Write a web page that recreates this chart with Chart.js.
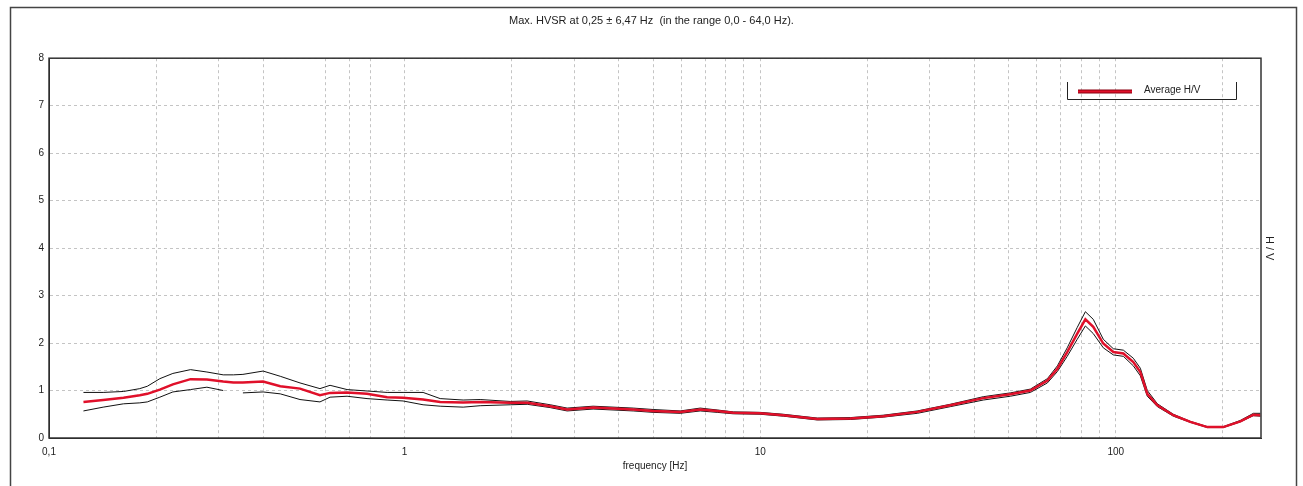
<!DOCTYPE html>
<html>
<head>
<meta charset="utf-8">
<script src="https://cdn.jsdelivr.net/npm/chart.js@4"></script>
<style>
  body { margin: 0; background: #fff; }
  #wrap { width: 1303px; height: 486px; position: relative; }
</style>
</head>
<body>
<div id="wrap"><canvas id="hvchart"></canvas></div>
<script>
// frequency [Hz] and H/V curves
var freqs = [0.125,0.142,0.162,0.180,0.189,0.205,0.223,0.250,0.278,0.309,0.330,0.351,0.400,0.447,0.508,0.578,0.617,0.689,0.784,0.893,
  0.990,1.127,1.259,1.461,1.631,1.981,2.212,2.567,2.865,3.390,4.394,5.000,5.957,6.780,7.570,8.400,10.00,11.61,14.47,17.92,
  22.18,27.65,34.23,42.40,50.50,57.50,64.20,68.50,73.00,77.90,82.10,86.40,92.20,98.40,105.0,112.0,117.2,122.6,130.9,145.1,
  162.0,180.9,200.6,224.0,243.7,255.0];
var avgHV = [0.76,0.80,0.85,0.90,0.93,1.02,1.13,1.24,1.23,1.19,1.17,1.17,1.19,1.09,1.04,0.90,0.95,0.96,0.93,0.86,
  0.85,0.81,0.76,0.75,0.76,0.74,0.74,0.67,0.60,0.64,0.60,0.57,0.55,0.60,0.57,0.53,0.52,0.48,0.40,0.41,
  0.46,0.55,0.69,0.84,0.92,1.00,1.21,1.46,1.81,2.20,2.50,2.34,1.99,1.81,1.78,1.60,1.39,0.93,0.69,0.48,
  0.34,0.23,0.23,0.35,0.49,0.48];
var upperHV = [0.96,0.96,0.98,1.04,1.09,1.25,1.36,1.44,1.39,1.33,1.33,1.34,1.41,1.30,1.16,1.04,1.11,1.02,0.99,0.96,
  0.96,0.96,0.83,0.80,0.81,0.77,0.78,0.70,0.63,0.67,0.63,0.60,0.57,0.63,0.59,0.55,0.54,0.50,0.42,0.43,
  0.48,0.57,0.71,0.87,0.95,1.03,1.25,1.52,1.90,2.33,2.66,2.50,2.08,1.88,1.85,1.68,1.47,1.00,0.72,0.50,
  0.35,0.24,0.24,0.37,0.52,0.52];
var lowerHV = [0.57,0.65,0.72,0.74,0.76,0.86,0.97,1.02,1.07,1.00,null,0.95,0.97,0.93,0.81,0.76,0.86,0.88,0.83,0.80,
  0.78,0.70,0.67,0.65,0.68,0.70,0.71,0.64,0.57,0.61,0.57,0.54,0.52,0.57,0.54,0.51,0.50,0.46,0.38,0.39,
  0.44,0.52,0.66,0.80,0.88,0.96,1.16,1.40,1.72,2.08,2.36,2.20,1.90,1.75,1.72,1.52,1.31,0.88,0.66,0.46,
  0.33,0.22,0.22,0.34,0.47,0.46];

// grid lines on the log axis (0,5 and 0,9 have no line in the original)
var gridFreqs = [0.1,0.2,0.3,0.4,0.6,0.7,0.8,1,2,3,4,5,6,7,8,9,10,20,30,40,50,60,70,80,90,100,200];
var xTickValues = [0.1, 1, 10, 100];
var xTickLabels = ['0,1', '1', '10', '100'];

function pts(ys) {
  return freqs.map(function (f, i) { return { x: f, y: ys[i] }; });
}

// frame around the whole picture, plot box and the little legend
var framePlugin = {
  id: 'frame',
  afterDraw: function (chart) {
    var c = chart.ctx, a = chart.chartArea;
    c.save();
    c.strokeStyle = '#444';
    c.lineWidth = 1.5;
    c.strokeRect(10.5, 7.5, 1286, 482);
    c.strokeStyle = '#333';
    c.strokeRect(a.left, a.top, a.right - a.left, a.bottom - a.top);

    // legend
    var lx = 1067.5, rx = 1236.5, ty = 82, by = 99.5;
    c.lineWidth = 1;
    c.strokeStyle = '#222';
    c.beginPath();
    c.moveTo(lx, ty); c.lineTo(lx, by); c.lineTo(rx, by); c.lineTo(rx, ty);
    c.stroke();
    c.strokeStyle = '#8a0010';
    c.lineWidth = 4;
    c.beginPath(); c.moveTo(1078, 91.5); c.lineTo(1132, 91.5); c.stroke();
    c.strokeStyle = '#e0102a';
    c.lineWidth = 2;
    c.beginPath(); c.moveTo(1078, 91.5); c.lineTo(1132, 91.5); c.stroke();
    c.fillStyle = '#222';
    c.font = '10px "Liberation Sans", Arial, sans-serif';
    c.textBaseline = 'middle';
    c.fillText(chart.data.datasets[0].label, 1144, 90.5);
    c.restore();
  }
};

var ctx = document.getElementById('hvchart').getContext('2d');

var hvChart = new Chart(ctx, {
  type: 'line',
  data: {
    datasets: [{
      label: 'Average H/V',
      data: pts(avgHV),
      borderColor: '#e0102a',
      borderWidth: 2.5,
      pointRadius: 0,
      tension: 0
    }, {
      label: 'upper',
      data: pts(upperHV),
      borderColor: '#111',
      borderWidth: 1,
      pointRadius: 0,
      tension: 0,
      spanGaps: false
    }, {
      label: 'lower',
      data: pts(lowerHV),
      borderColor: '#111',
      borderWidth: 1,
      pointRadius: 0,
      tension: 0,
      spanGaps: false
    }]
  },
  options: {
    responsive: true,
    maintainAspectRatio: false,
    animation: false,
    layout: { padding: { left: 0, right: 0, top: 0, bottom: 0 } },
    plugins: {
      legend: { display: false },
      tooltip: { enabled: false },
      title: {
        display: true,
        text: 'Max. HVSR at 0,25 \u00b1 6,47 Hz  (in the range 0,0 - 64,0 Hz).',
        color: '#222',
        font: { family: '"Liberation Sans", Arial, sans-serif', size: 11, weight: 'normal' },
        padding: { top: 14, bottom: 31 }
      }
    },
    scales: {
      x: {
        type: 'logarithmic',
        min: 0.1,
        max: 256,
        afterBuildTicks: function (scale) {
          scale.ticks = gridFreqs.map(function (v) { return { value: v }; });
        },
        afterFit: function (scale) { scale.height = 48; },
        ticks: {
          autoSkip: false,
          maxRotation: 0,
          padding: 8,
          color: '#222',
          font: { family: '"Liberation Sans", Arial, sans-serif', size: 10 },
          callback: function (v) {
            var i = xTickValues.indexOf(v);
            return i >= 0 ? xTickLabels[i] : '';
          }
        },
        grid: { color: '#c4c4c4', drawTicks: false },
        border: { color: '#222', dash: [3, 3] },
        title: {
          display: true,
          text: 'frequency [Hz]',
          color: '#222',
          font: { family: '"Liberation Sans", Arial, sans-serif', size: 10 },
          padding: { top: 3, bottom: 14 }
        }
      },
      y: {
        min: 0,
        max: 8,
        afterFit: function (scale) { scale.width = 49; },
        ticks: {
          stepSize: 1,
          padding: 5,
          color: '#222',
          font: { family: '"Liberation Sans", Arial, sans-serif', size: 10 }
        },
        grid: { color: '#c4c4c4', drawTicks: false },
        border: { color: '#222', dash: [3, 3] }
      },
      y2: {
        position: 'right',
        min: 0,
        max: 8,
        afterFit: function (scale) { scale.width = 42; },
        ticks: { display: false },
        grid: { display: false },
        border: { display: false },
        title: {
          display: true,
          text: 'H / V',
          color: '#222',
          font: { family: '"Liberation Sans", Arial, sans-serif', size: 11 },
          padding: { top: 27, bottom: 0 }
        }
      }
    }
  },
  plugins: [framePlugin]
});
</script>
</body>
</html>
